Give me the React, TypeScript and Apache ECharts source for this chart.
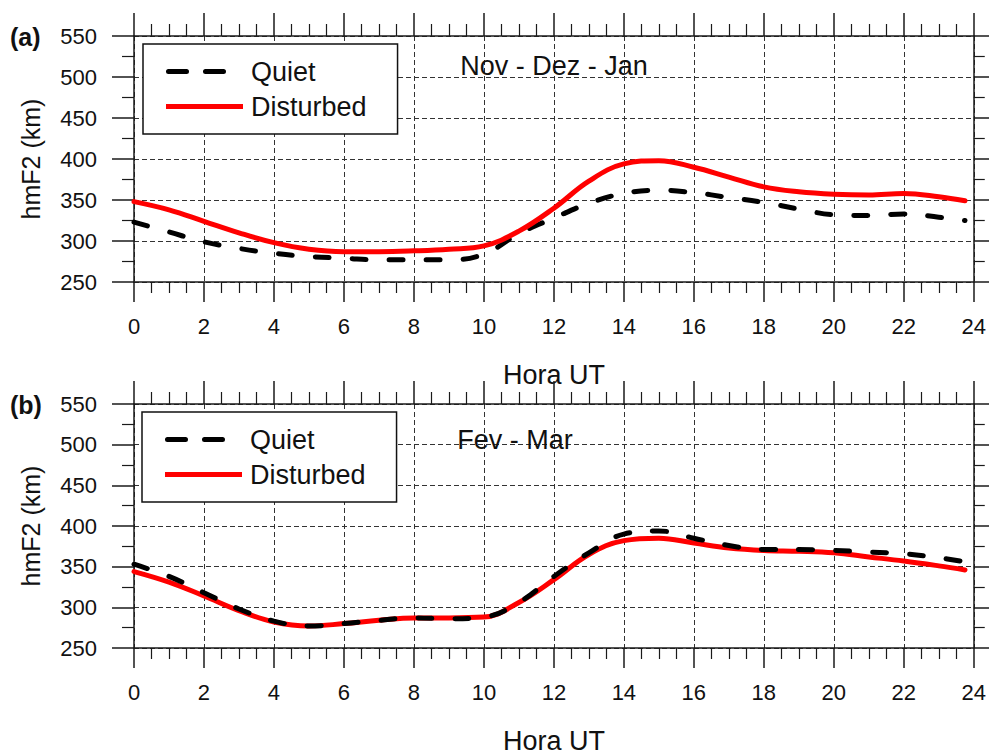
import React, { useEffect, useRef } from "react";
import * as echarts from "echarts";

const hours = [0, 1, 2, 3, 4, 5, 6, 7, 8, 9, 10, 11, 12, 13, 14, 15, 16, 17, 18, 19, 20, 21, 22, 23, 23.75];
const quietA = [323, 311, 299, 291, 285, 281, 279, 277, 277, 277, 284, 309, 328, 346, 358, 362, 359, 353, 347, 339, 332, 331, 333, 329, 325];
const disturbedA = [348, 338, 324, 310, 298, 290, 287, 287, 288, 290, 294, 312, 340, 373, 394, 398, 390, 378, 366, 360, 357, 356, 358, 354, 349];
const quietB = [353, 338, 318, 298, 283, 277, 280, 284, 287, 286, 288, 306, 338, 367, 390, 394, 385, 376, 371, 371, 370, 368, 366, 361, 356];
const disturbedB = [344, 331, 314, 296, 282, 277, 280, 284, 287, 287, 288, 306, 334, 365, 382, 385, 379, 373, 370, 369, 367, 362, 357, 351, 346];
const xTicks = [0, 2, 4, 6, 8, 10, 12, 14, 16, 18, 20, 22, 24];
const yTicks = [250, 300, 350, 400, 450, 500, 550];
const panelTitles = ["Nov - Dez - Jan", "Fev - Mar"];
const panelTags = ["(a)", "(b)"];
const seriesNames = ["Quiet", "Disturbed"];

const FONT = "Liberation Sans, Arial, sans-serif";
const AX = "#1a1a1a";

const QUIET_ICON =
  "path://M2.5,0H20.5A2.5,2.5 0 0 1 20.5,5H2.5A2.5,2.5 0 0 1 2.5,0Z M39.5,0H57.5A2.5,2.5 0 0 1 57.5,5H39.5A2.5,2.5 0 0 1 39.5,0Z M76.95,2.45H77V2.55H76.95Z";
const DIST_ICON = "path://M0,0H77V5H0Z";

export default function App() {
  const ref = useRef<HTMLDivElement>(null);
  useEffect(() => {
    if (!ref.current) return;
    const chart = echarts.init(ref.current, null, { renderer: "svg" });
    const grids = [
      { left: 134, top: 36, width: 841, height: 246 },
      { left: 134, top: 404, width: 841, height: 245 },
    ];
    const xMin = xTicks[0], xMax = xTicks[xTicks.length - 1];
    const yMin = yTicks[0], yMax = yTicks[yTicks.length - 1];
    const xAxes: any[] = [];
    const yAxes: any[] = [];
    [0, 1].forEach((g) => {
      xAxes.push({
        type: "value", gridIndex: g, min: xMin, max: xMax, interval: 2, position: "bottom",
        axisLine: { show: true, onZero: false, lineStyle: { color: AX, width: 1.5 } },
        axisTick: { show: true, length: 20, lineStyle: { color: AX, width: 1.5 } },
        minorTick: { show: true, splitNumber: 4, length: 11, lineStyle: { color: AX, width: 1.2 } },
        axisLabel: { show: true, margin: 33, fontSize: 22, color: "#111", fontFamily: FONT },
        splitLine: { show: true, lineStyle: { color: "#333", width: 1, type: [5, 3] } },
        name: "Hora UT", nameLocation: "middle", nameGap: 79,
        nameTextStyle: { fontSize: 27, color: "#111", fontFamily: FONT },
      });
      xAxes.push({
        type: "value", gridIndex: g, min: xMin, max: xMax, interval: 2, position: "top",
        axisLine: { show: true, onZero: false, lineStyle: { color: AX, width: 1.5 } },
        axisTick: { show: true, length: 23, lineStyle: { color: AX, width: 1.5 } },
        minorTick: { show: true, splitNumber: 4, length: 12, lineStyle: { color: AX, width: 1.2 } },
        axisLabel: { show: false },
        splitLine: { show: false },
      });
      yAxes.push({
        type: "value", gridIndex: g, min: yMin, max: yMax, interval: 50, position: "left",
        axisLine: { show: true, onZero: false, lineStyle: { color: AX, width: 1.5 } },
        axisTick: { show: true, length: 22, lineStyle: { color: AX, width: 1.5 } },
        minorTick: { show: true, splitNumber: 2, length: 12, lineStyle: { color: AX, width: 1.2 } },
        axisLabel: { show: true, margin: 37, fontSize: 22, color: "#111", fontFamily: FONT },
        splitLine: { show: true, lineStyle: { color: "#333", width: 1, type: [5, 3] } },
        name: "hmF2 (km)", nameLocation: "middle", nameGap: 91, nameRotate: 90,
        nameTextStyle: { fontSize: 25, color: "#111", fontFamily: FONT },
      });
      yAxes.push({
        type: "value", gridIndex: g, min: yMin, max: yMax, interval: 50, position: "right",
        axisLine: { show: true, onZero: false, lineStyle: { color: AX, width: 1.5 } },
        axisTick: { show: true, length: 16, lineStyle: { color: AX, width: 1.5 } },
        minorTick: { show: true, splitNumber: 2, length: 11, lineStyle: { color: AX, width: 1.2 } },
        axisLabel: { show: false },
        splitLine: { show: false },
      });
    });
    const pair = (ys: number[]) => hours.map((h, i) => [h, ys[i]]);
    const quietStyle = { color: "#000", width: 5, type: [14, 23], cap: "round" };
    const distStyle = { color: "#ff0000", width: 5, type: "solid", cap: "round" };
    const data = [
      [quietA, disturbedA],
      [quietB, disturbedB],
    ];
    const series: any[] = [];
    [0, 1].forEach((g) => {
      series.push({
        name: seriesNames[0], type: "line", xAxisIndex: g * 2, yAxisIndex: g * 2,
        data: pair(data[g][0]), smooth: 0.4, symbol: "none", showSymbol: false,
        color: "#000", lineStyle: quietStyle, z: 3,
      });
      series.push({
        name: seriesNames[1], type: "line", xAxisIndex: g * 2, yAxisIndex: g * 2,
        data: pair(data[g][1]), smooth: 0.4, symbol: "none", showSymbol: false,
        color: "#ff0000", lineStyle: distStyle, z: g === 0 ? 4 : 2,
      });
    });
    const legendTops = [44, 412];
    const legendLefts = [143, 142];
    const legends = [0, 1].map((g) => ({
      show: true, orient: "vertical", left: legendLefts[g], top: legendTops[g],
      data: [
        { name: seriesNames[0], icon: QUIET_ICON },
        { name: seriesNames[1], icon: DIST_ICON },
      ],
      itemWidth: 77, itemHeight: 14, itemGap: 8, symbolKeepAspect: true,
      padding: [14, 31, 14, 23], borderColor: "#111", borderWidth: 1.5,
      backgroundColor: "#fff", selectedMode: false,
      textStyle: { fontSize: 27, lineHeight: 27, color: "#111", fontFamily: FONT, padding: [0, 0, 0, 3] },
    }));
    const titleCenters = [[554, 66], [515, 440]];
    const tagTops = [37, 405];
    const graphic: any[] = [];
    [0, 1].forEach((g) => {
      graphic.push({
        type: "text", x: titleCenters[g][0], y: titleCenters[g][1], z: 100,
        style: { text: panelTitles[g], fontSize: 27, fontFamily: FONT, fill: "#111", align: "center", verticalAlign: "middle" },
      });
      graphic.push({
        type: "text", x: 10, y: tagTops[g], z: 100,
        style: { text: panelTags[g], fontSize: 25, fontWeight: "bold", fontFamily: FONT, fill: "#111", align: "left", verticalAlign: "middle" },
      });
    });
    chart.setOption({
      animation: false,
      backgroundColor: "#fff",
      textStyle: { fontFamily: FONT },
      grid: grids,
      xAxis: xAxes,
      yAxis: yAxes,
      legend: legends,
      series,
      graphic,
    });
    return () => chart.dispose();
  }, []);
  return <div ref={ref} style={{ position: "absolute", left: 0, top: 0, width: 989, height: 755 }} />;
}
